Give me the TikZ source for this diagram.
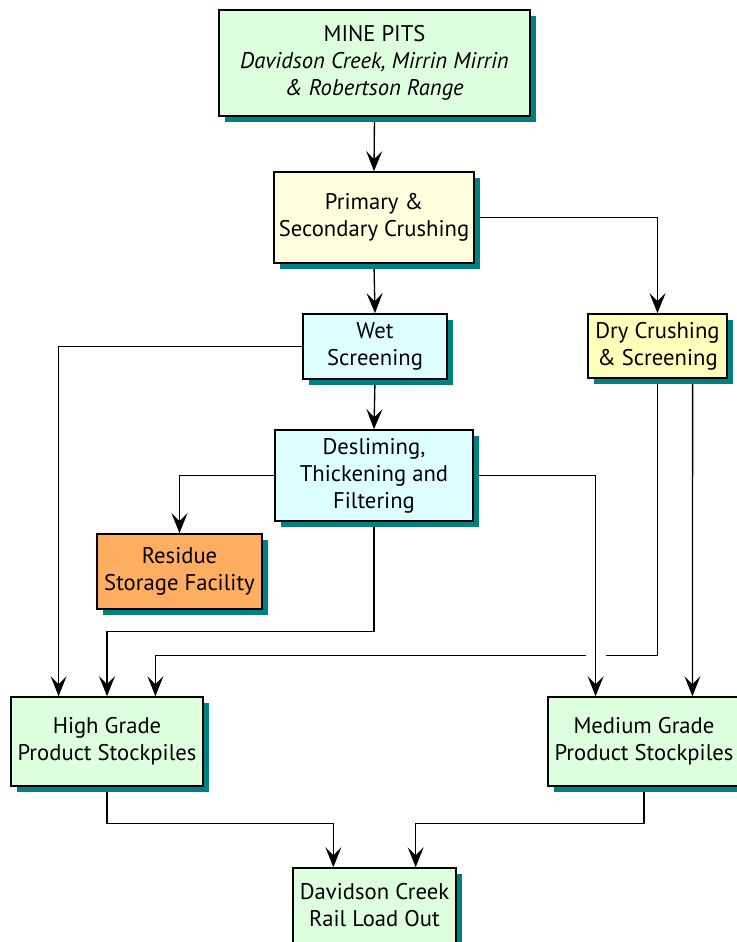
\documentclass[tikz,border=0pt]{standalone}
\usepackage{fontspec}
\setmainfont{PT Sans}
\usetikzlibrary{arrows.meta,shadows,calc,backgrounds}

\definecolor{pitgreen}{HTML}{DDFFDD}
\definecolor{crushyellow}{HTML}{FFFFDD}
\definecolor{dryyellow}{HTML}{FFFFBB}
\definecolor{washcyan}{HTML}{DDFFFF}
\definecolor{residueorange}{HTML}{FFAD60}
\definecolor{shadowteal}{HTML}{008080}

\begin{document}
\begin{tikzpicture}[x=0.75pt, y=-0.75pt,
    every node/.style={font=\fontsize{17}{20.25}\selectfont},
    procbox/.style={draw, line width=1.2pt, align=center, inner sep=1pt,
        drop shadow={shadow xshift=4.5pt, shadow yshift=-4.5pt, fill=shadowteal, opacity=1}},
    arr/.style={-{Stealth[length=15pt, width=12pt, inset=6pt]}, line width=1pt}]
    \useasboundingbox (0,0) rectangle (736,942);

    % Process boxes
    \node[procbox, fill=pitgreen, minimum width=233.25pt, minimum height=79.5pt] (pits) at (374.5,63)
        {MINE PITS\\ \textit{Davidson Creek, Mirrin Mirrin}\\ \textit{\& Robertson Range}};
    \node[procbox, fill=crushyellow, minimum width=150pt, minimum height=68.25pt] (crush) at (374,217.5)
        {Primary \&\\ Secondary Crushing};
    \node[procbox, fill=washcyan, minimum width=108pt, minimum height=48.75pt] (wet) at (375,346.5)
        {Wet\\ Screening};
    \node[procbox, fill=dryyellow, minimum width=104.25pt, minimum height=48pt] (dry) at (657.5,346)
        {Dry Crushing\\ \& Screening};
    \node[procbox, fill=washcyan, minimum width=148.5pt, minimum height=68.25pt] (deslime) at (374,475.5)
        {Desliming,\\ Thickening and\\ Filtering};
    \node[procbox, fill=residueorange, minimum width=123.75pt, minimum height=56.25pt] (residue) at (179.5,571.5)
        {Residue\\ Storage Facility};
    \node[procbox, fill=pitgreen, minimum width=144pt, minimum height=66.75pt] (high) at (107,741.5)
        {High Grade\\ Product Stockpiles};
    \node[procbox, fill=pitgreen, minimum width=144pt, minimum height=66.75pt] (medium) at (644,741.5)
        {Medium Grade\\ Product Stockpiles};
    \node[procbox, fill=pitgreen, minimum width=122.25pt, minimum height=56.25pt] (rail) at (374.5,905.5)
        {Davidson Creek\\ Rail Load Out};

    % Entry points on the stockpiles and the rail load out
    \coordinate (highA) at ($(high.north west)!0.25!(high.north east)$);
    \coordinate (highC) at ($(high.north west)!0.75!(high.north east)$);
    \coordinate (medA) at ($(medium.north west)!0.25!(medium.north east)$);
    \coordinate (medC) at ($(medium.north west)!0.75!(medium.north east)$);
    \coordinate (dryC) at ($(dry.south west)!0.75!(dry.south east)$);
    \coordinate (railA) at ($(rail.north west)!0.25!(rail.north east)$);
    \coordinate (railC) at ($(rail.north west)!0.75!(rail.north east)$);

    \begin{scope}[on background layer]
        % Main wet line
        \draw[arr] (pits.south) -- (crush.north);
        \draw[arr] (crush.south) -- (wet.north);
        \draw[arr] (wet.south) -- (deslime.north);
        \draw[arr] (crush.east) -| (dry.north);

        % To high grade and residue
        \draw[arr] (wet.west) -| (highA);
        \draw[arr] (deslime.west) -| (residue.north);
        \draw[arr] (deslime.south) -- ++(0,110) -| (high.north);
        \draw[arr] (dry.south) -- ++(0,277) -| (highC);

        % To medium grade (this one breaks the line it crosses)
        \draw[arr, preaction={draw=white, line width=15pt}] (deslime.east) -| (medA);
        \draw[arr] (dryC) -- (medC);

        % To rail load out
        \draw[arr] (high.south) -- ++(0,37) -| (railA);
        \draw[arr] (medium.south) -- ++(0,37) -| (railC);
    \end{scope}
\end{tikzpicture}
\end{document}
